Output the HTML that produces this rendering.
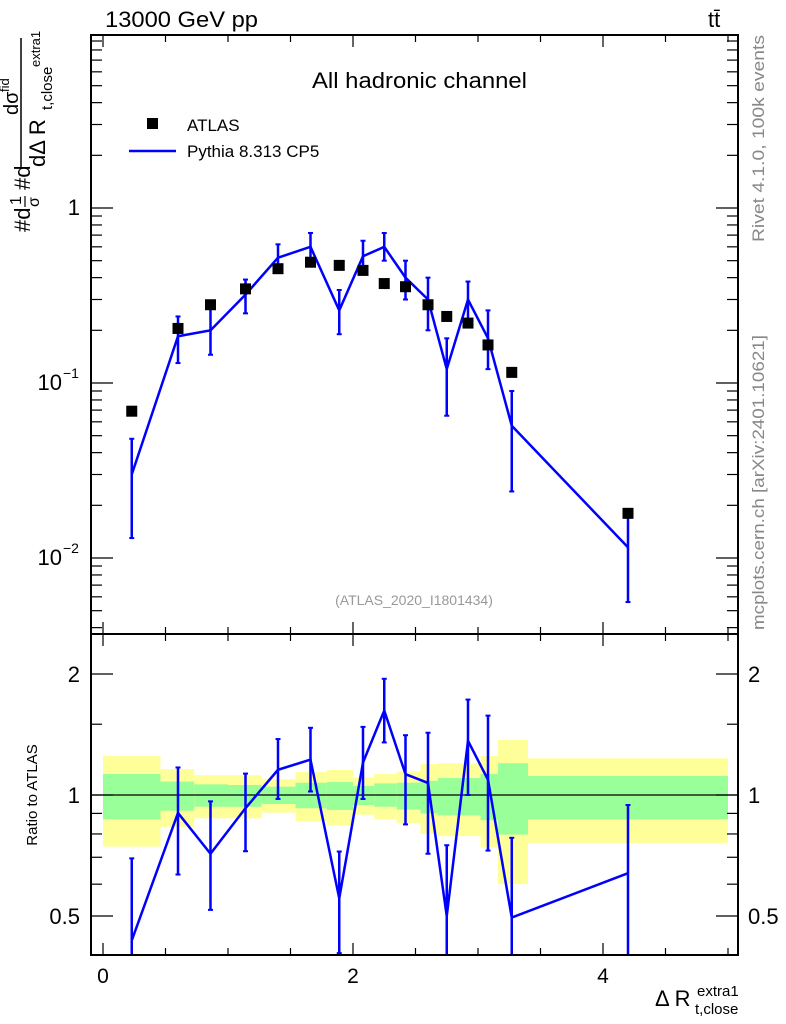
<!DOCTYPE html>
<html><head><meta charset="utf-8"><style>
html,body{margin:0;background:#fff;overflow:hidden;width:786px;height:1024px;}
svg{display:block;font-family:"Liberation Sans",sans-serif;}
</style></head><body>
<svg id="c" width="786" height="1024" xmlns="http://www.w3.org/2000/svg"></svg>
<script>
const binEdges=[0,0.46,0.73,1.0,1.27,1.54,1.79,2.0,2.17,2.35,2.54,2.68,2.84,3.02,3.16,3.4,5.0];
const xCenters=[0.23,0.6,0.86,1.14,1.4,1.66,1.89,2.08,2.25,2.42,2.6,2.75,2.92,3.08,3.27,4.2];
const atlasVals=[0.069,0.205,0.28,0.345,0.45,0.49,0.47,0.44,0.37,0.355,0.28,0.24,0.22,0.165,0.115,0.018];
const mcVals=[0.03,0.185,0.2,0.32,0.52,0.6,0.26,0.53,0.6,0.4,0.3,0.12,0.3,0.18,0.057,0.0115];
const mcLo=[0.013,0.13,0.145,0.25,0.44,0.5,0.19,0.43,0.5,0.3,0.2,0.065,0.22,0.12,0.024,0.0056];
const mcHi=[0.048,0.24,0.27,0.39,0.62,0.72,0.34,0.65,0.72,0.5,0.4,0.18,0.38,0.26,0.09,0.017];
const yelHi=[1.25,1.16,1.12,1.12,1.094,1.14,1.154,1.106,1.128,1.145,1.194,1.199,1.199,1.25,1.37,1.234];
const yelLo=[0.744,0.834,0.875,0.875,0.904,0.86,0.84,0.893,0.87,0.85,0.80,0.79,0.79,0.74,0.6,0.76];
const grnHi=[1.128,1.08,1.063,1.059,1.049,1.073,1.077,1.053,1.069,1.073,1.085,1.102,1.102,1.128,1.2,1.115];
const grnLo=[0.87,0.914,0.935,0.935,0.95,0.927,0.918,0.944,0.935,0.92,0.90,0.89,0.89,0.866,0.797,0.87];
const xTicks=[0,2,4];
const mainTicks=[0.01,0.1,1];
const ratioTicks=[0.5,1,2];

const L=91,R=738,T=35,MB=634,RB=955;
const X=v=>103+v*125;
const Y=v=>208-Math.log10(v)*175;
const YR=v=>795-Math.log10(v)*402;
const S=document.getElementById('c');
const NS='http://www.w3.org/2000/svg';
function mk(t,a,p){const e=document.createElementNS(NS,t);for(const k in a)e.setAttribute(k,a[k]);(p||S).appendChild(e);return e;}

const defs=mk('defs',{});
const c1=mk('clipPath',{id:'cm'},defs);mk('rect',{x:L,y:T,width:R-L,height:MB-T},c1);
const c2=mk('clipPath',{id:'cr'},defs);mk('rect',{x:L,y:MB,width:R-L,height:RB-MB},c2);

const gR=mk('g',{'clip-path':'url(#cr)'});

for(let i=0;i<xCenters.length;i++){
  const x0=X(binEdges[i]),x1=X(binEdges[i+1]);
  const y=mk('rect',{x:x0,y:YR(yelHi[i]),width:x1-x0,height:YR(yelLo[i])-YR(yelHi[i]),fill:'#ffff99'},gR);
  
  const g=mk('rect',{x:x0,y:YR(grnHi[i]),width:x1-x0,height:YR(grnLo[i])-YR(grnHi[i]),fill:'#99ff99'},gR);
  
}
mk('line',{x1:L,x2:R,y1:YR(1),y2:YR(1),stroke:'#000','stroke-width':1.2},gR);

const gM=mk('g',{'clip-path':'url(#cm)'});
let pts=xCenters.map((x,i)=>X(x)+','+Y(mcVals[i])).join(' ');
const pl=mk('polyline',{points:pts,fill:'none',stroke:'#0000ff','stroke-width':2.5},gM);

function eb(g,x,y0,y1){mk('line',{x1:x,x2:x,y1:y0,y2:y1,stroke:'#0000ff','stroke-width':2.5},g);
 mk('line',{x1:x-2.5,x2:x+2.5,y1:y0,y2:y0,stroke:'#0000ff','stroke-width':2},g);
 mk('line',{x1:x-2.5,x2:x+2.5,y1:y1,y2:y1,stroke:'#0000ff','stroke-width':2},g);}
for(let i=0;i<xCenters.length;i++){eb(gM,X(xCenters[i]),Y(mcLo[i]),Y(mcHi[i]));}
for(let i=0;i<xCenters.length;i++){
  const r=mk('rect',{x:X(xCenters[i])-5.5,y:Y(atlasVals[i])-5.5,width:11,height:11,fill:'#000'},gM);
  
}
const gR2=mk('g',{'clip-path':'url(#cr)'});
pts=xCenters.map((x,i)=>X(x)+','+YR(mcVals[i]/atlasVals[i])).join(' ');
const pr=mk('polyline',{points:pts,fill:'none',stroke:'#0000ff','stroke-width':2.5},gR2);

for(let i=0;i<xCenters.length;i++){eb(gR2,X(xCenters[i]),YR(mcLo[i]/atlasVals[i]),YR(mcHi[i]/atlasVals[i]));}

mk('rect',{x:L,y:T,width:R-L,height:MB-T,fill:'none',stroke:'#000','stroke-width':2});
mk('rect',{x:L,y:MB,width:R-L,height:RB-MB,fill:'none',stroke:'#000','stroke-width':2});

function txt(s,a,name,p){const t=mk('text',a,p);t.textContent=s;return t;}
for(let v=0;v<=5;v+=0.5){const maj=xTicks.includes(v);const l=maj?12:7;
 for(const [yb,yt] of [[MB,T],[RB,MB]]){
  mk('line',{x1:X(v),x2:X(v),y1:yb,y2:yb-l,stroke:'#000','stroke-width':1.2});
  mk('line',{x1:X(v),x2:X(v),y1:yt,y2:yt+l,stroke:'#000','stroke-width':1.2});}}
xTicks.forEach(v=>txt(String(v),{x:X(v),y:983,'font-size':21,'text-anchor':'middle'},'x-tick-label'));
for(let d=-3;d<=0;d++){for(let m=1;m<=9;m++){const v=m*Math.pow(10,d);const y=Y(v);if(y<T||y>MB)continue;
 const l=m==1?22:11;mk('line',{x1:L,x2:L+l,y1:y,y2:y,stroke:'#000','stroke-width':1.2});mk('line',{x1:R,x2:R-l,y1:y,y2:y,stroke:'#000','stroke-width':1.2});}}
txt('1',{x:80,y:215,'font-size':22,'text-anchor':'end'},'y-tick-label');
txt('10',{x:62,y:390,'font-size':22,'text-anchor':'end'},'y-tick-label');
txt('−1',{x:63,y:378,'font-size':14},'y-tick-exp');
txt('10',{x:62,y:565,'font-size':22,'text-anchor':'end'},'y-tick-label');
txt('−2',{x:63,y:553,'font-size':14},'y-tick-exp');
[0.5,0.6,0.7,0.8,0.9,1,1.5,2].forEach(v=>{const y=YR(v);const l=ratioTicks.includes(v)?22:11;
 mk('line',{x1:L,x2:L+l,y1:y,y2:y,stroke:'#000','stroke-width':1.2});mk('line',{x1:R,x2:R-l,y1:y,y2:y,stroke:'#000','stroke-width':1.2});});
ratioTicks.forEach(v=>{
 txt(String(v),{x:80,y:YR(v)+8,'font-size':22,'text-anchor':'end'},'ratio-tick-label');
 txt(String(v),{x:748,y:YR(v)+8,'font-size':22},'ratio-tick-label-right');});

txt('13000 GeV pp',{x:105,y:27,'font-size':22,textLength:153,lengthAdjust:'spacingAndGlyphs'},'energy-label');
txt('tt̄',{x:708,y:27,'font-size':22},'process-label');
txt('All hadronic channel',{x:312,y:88,'font-size':22,textLength:215,lengthAdjust:'spacingAndGlyphs'},'plot-title');
mk('rect',{x:147,y:118,width:11,height:11,fill:'#000'});
txt('ATLAS',{x:187,y:131,'font-size':17},'legend-atlas');
mk('line',{x1:129,x2:176,y1:151,y2:151,stroke:'#0000ff','stroke-width':2.5});
txt('Pythia 8.313 CP5',{x:187,y:157,'font-size':17},'legend-pythia');
txt('(ATLAS_2020_I1801434)',{x:414,y:605,'font-size':14,fill:'#999','text-anchor':'middle'},'analysis-id');
txt('Rivet 4.1.0,  100k events',{x:0,y:0,'font-size':17,fill:'#888',textLength:207,lengthAdjust:'spacingAndGlyphs',transform:'translate(764,242) rotate(-90)'},'rivet-label');
txt('mcplots.cern.ch [arXiv:2401.10621]',{x:0,y:0,'font-size':17,fill:'#888',textLength:295,lengthAdjust:'spacingAndGlyphs',transform:'translate(764,630) rotate(-90)'},'mcplots-label');
txt('Ratio to ATLAS',{x:0,y:0,'font-size':15,'text-anchor':'middle',transform:'translate(37,795) rotate(-90)'},'ratio-y-title');

// y-axis title as rotated group
const yg=mk('g',{transform:'translate(30,232) rotate(-90)'});

txt('#d',{x:0,y:0,'font-size':22},'y-title-part',yg);
txt('1',{x:27,y:-9,'font-size':16},'y-title-part',yg);
mk('line',{x1:25,x2:36,y1:-5,y2:-5,stroke:'#000','stroke-width':1.2},yg);
txt('σ',{x:25,y:9,'font-size':16},'y-title-part',yg);
txt('#d',{x:42,y:0,'font-size':22},'y-title-part',yg);
mk('line',{x1:65,x2:194,y1:-9,y2:-9,stroke:'#000','stroke-width':1.5},yg);
txt('dσ',{x:117,y:-12,'font-size':20},'y-title-part',yg);
txt('fid',{x:140,y:-21,'font-size':13},'y-title-part',yg);
txt('dΔ R',{x:65,y:15,'font-size':22},'y-title-part',yg);
txt('t,close',{x:122,y:22,'font-size':15},'y-title-part',yg);
txt('extra1',{x:165,y:10,'font-size':13},'y-title-part',yg);

txt('Δ R',{x:655,y:1006,'font-size':22},'x-axis-title');
txt('extra1',{x:697,y:996,'font-size':15},'x-axis-title-sup');
txt('t,close',{x:695,y:1014,'font-size':15},'x-axis-title-sub');
</script>
</body></html>
